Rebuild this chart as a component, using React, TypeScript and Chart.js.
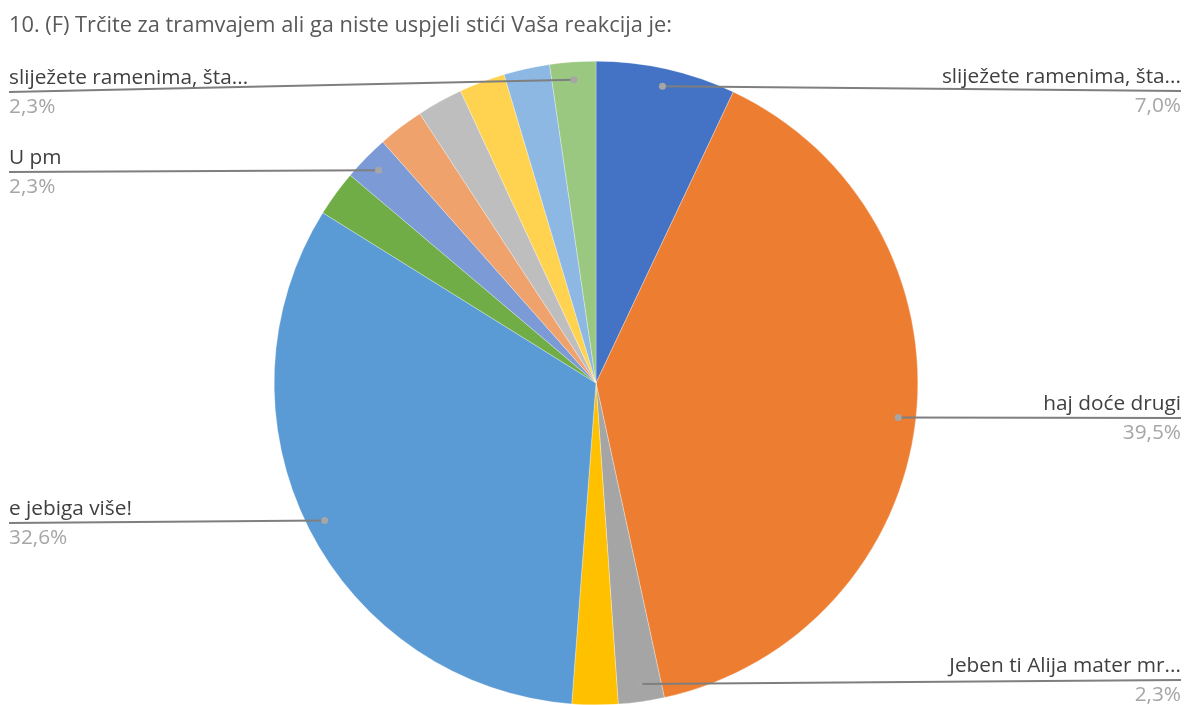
import React, { useEffect, useRef } from "react";
import { Chart, registerables } from "chart.js";

Chart.register(...registerables);

const TITLE = "10. (F) Trčite za tramvajem ali ga niste uspjeli stići Vaša reakcija je:";

const categories = [
  "sliježete ramenima, šta...",
  "haj doće drugi",
  "Jeben ti Alija mater mr...",
  "odgovor 4",
  "e jebiga više!",
  "odgovor 6",
  "U pm",
  "odgovor 8",
  "odgovor 9",
  "odgovor 10",
  "odgovor 11",
  "sliježete ramenima, šta...",
];

const percentages = [7.0, 39.5, 2.3, 2.3, 32.6, 2.3, 2.3, 2.3, 2.3, 2.3, 2.3, 2.3];

const percentLabels = ["7,0%", "39,5%", "2,3%", "2,3%", "32,6%", "2,3%", "2,3%", "2,3%", "2,3%", "2,3%", "2,3%", "2,3%"];

const colors = [
  "#4472C4", "#ED7D31", "#A5A5A5", "#FFC000", "#5B9BD5", "#70AD47",
  "#7C9AD6", "#F0A26D", "#BEBEBE", "#FFD24F", "#8DB8E3", "#9BC880",
];

// which slices carry a label, on which side, and the y of the label's rule
const labelLayout: { index: number; side: "left" | "right"; y: number }[] = [
  { index: 0, side: "right", y: 91 },
  { index: 1, side: "right", y: 418 },
  { index: 2, side: "right", y: 680 },
  { index: 4, side: "left", y: 523 },
  { index: 6, side: "left", y: 172 },
  { index: 11, side: "left", y: 92 },
];

const FONT = '"Open Sans", "Liberation Sans", sans-serif';

const overlayPlugin = {
  id: "overlay",
  afterDraw(chart: any) {
    const ctx = chart.ctx as CanvasRenderingContext2D;
    ctx.save();
    // title
    ctx.font = `21.8px ${FONT}`;
    ctx.fillStyle = "#595959";
    ctx.textAlign = "left";
    ctx.textBaseline = "alphabetic";
    ctx.fillText(TITLE, 9, 32);

    const meta = chart.getDatasetMeta(0);
    labelLayout.forEach((l) => {
      const arc = meta.data[l.index];
      const p = arc.getProps(["x", "y", "startAngle", "endAngle", "outerRadius"], true);
      const mid = (p.startAngle + p.endAngle) / 2;
      const r = p.outerRadius * 0.945;
      const dx = p.x + Math.cos(mid) * r;
      const dy = p.y + Math.sin(mid) * r;
      const endX = l.side === "right" ? 1181 : 9;

      ctx.strokeStyle = "#7F7F7F";
      ctx.lineWidth = 2;
      ctx.beginPath();
      ctx.moveTo(dx, dy);
      ctx.lineTo(endX, l.y);
      ctx.stroke();

      ctx.fillStyle = "#A6A6A6";
      ctx.beginPath();
      ctx.arc(dx, dy, 3.5, 0, Math.PI * 2);
      ctx.fill();

      ctx.textAlign = l.side === "right" ? "right" : "left";
      ctx.textBaseline = "alphabetic";
      ctx.font = `20.8px ${FONT}`;
      ctx.fillStyle = "#404040";
      ctx.fillText(categories[l.index], endX, l.y - 8);
      ctx.fillStyle = "#A6A6A6";
      ctx.fillText(percentLabels[l.index], endX, l.y + 21);
    });
    ctx.restore();
  },
};

export default function App() {
  const ref = useRef<HTMLCanvasElement | null>(null);

  useEffect(() => {
    document.body.style.margin = "0";
    document.body.style.background = "#ffffff";
    if (!ref.current) return;
    const chart = new Chart(ref.current, {
      type: "pie",
      data: {
        labels: categories,
        datasets: [
          {
            data: percentages,
            backgroundColor: colors,
            borderColor: "#ffffff",
            borderWidth: 0.3,
          },
        ],
      },
      options: {
        animation: false,
        responsive: false,
        maintainAspectRatio: false,
        layout: { padding: { top: 61, bottom: 0, left: 274, right: 267 } },
        plugins: {
          legend: { display: false },
          tooltip: { enabled: false },
          title: { display: false },
        },
      },
      plugins: [overlayPlugin],
    });
    return () => chart.destroy();
  }, []);

  return (
    <div style={{ width: 1185, height: 705, background: "#fff" }}>
      <canvas ref={ref} width={1185} height={705} />
    </div>
  );
}
